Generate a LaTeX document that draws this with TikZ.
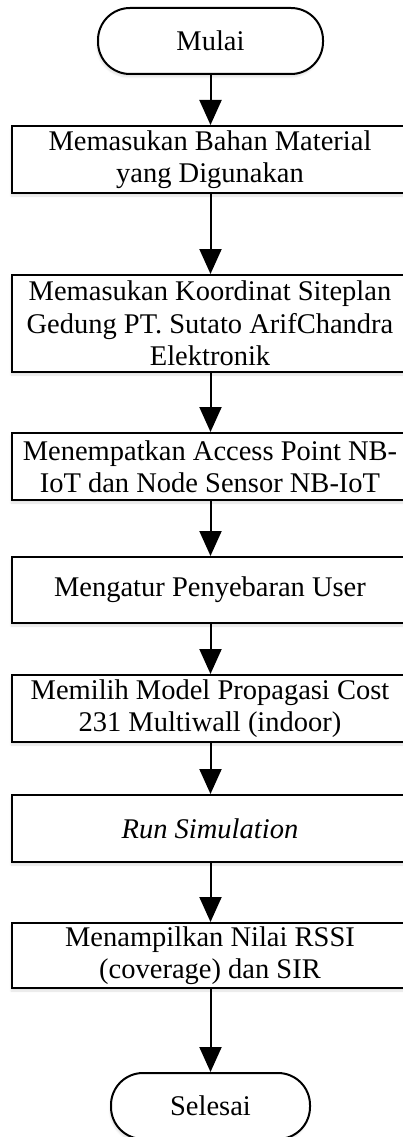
\documentclass[tikz,border=0pt]{standalone}
\usepackage{fontspec}
\setmainfont{Liberation Serif}
\usetikzlibrary{arrows.meta,shadows.blur}
\begin{document}
\begin{tikzpicture}[x=1pt,y=-1pt,
  box/.style={draw=black,line width=2pt,fill=white,rectangle,inner sep=0pt,align=center,
    minimum width=404pt,font=\fontsize{28.5}{32.5}\selectfont,
    blur shadow={shadow xshift=-1pt,shadow yshift=-3pt,shadow opacity=12,shadow blur steps=6}},
  term/.style={box,rounded corners=32pt},
  flow/.style={line width=2pt,-{Triangle[length=25pt,width=22pt]}}]
\useasboundingbox (0,0) rectangle (402,1137);
\node[term,minimum width=225pt,minimum height=66pt] (mulai) at (210.5,41) {Mulai};
\node[box,minimum height=67pt] (b1) at (214,159.5) {\hspace*{-8pt}Memasukan Bahan Material\\\hspace*{-8pt}yang Digunakan};
\node[box,minimum height=97pt] (b2) at (214,323.5) {\hspace*{-8pt}Memasukan Koordinat Siteplan\\\hspace*{-8pt}Gedung PT. Sutato ArifChandra\\\hspace*{-8pt}Elektronik};
\node[box,minimum height=67pt] (b3) at (214,466.5) {\hspace*{-8pt}Menempatkan Access Point NB-\\\hspace*{-8pt}IoT dan Node Sensor NB-IoT};
\node[box,minimum height=66pt] (b4) at (214,590) {\hspace*{-8pt}Mengatur Penyebaran User};
\node[box,minimum height=67pt] (b5) at (214,708.5) {\hspace*{-8pt}Memilih Model Propagasi Cost\\\hspace*{-8pt}231 Multiwall (indoor)};
\node[box,minimum height=67pt] (b6) at (214,828.5) {\hspace*{-8pt}\textit{Run Simulation}};
\node[box,minimum height=65pt] (b7) at (214,955.5) {\hspace*{-8pt}Menampilkan Nilai RSSI\\\hspace*{-8pt}(coverage) dan SIR};
\node[term,minimum width=199pt,minimum height=66pt] (selesai) at (210.5,1106) {Selesai};
\draw[flow] (mulai) -- (b1.north -| mulai);
\draw[flow] (b1.south -| mulai) -- (b2.north -| mulai);
\draw[flow] (b2.south -| mulai) -- (b3.north -| mulai);
\draw[flow] (b3.south -| mulai) -- (b4.north -| mulai);
\draw[flow] (b4.south -| mulai) -- (b5.north -| mulai);
\draw[flow] (b5.south -| mulai) -- (b6.north -| mulai);
\draw[flow] (b6.south -| mulai) -- (b7.north -| mulai);
\draw[flow] (b7.south -| mulai) -- (selesai);
\end{tikzpicture}
\end{document}
